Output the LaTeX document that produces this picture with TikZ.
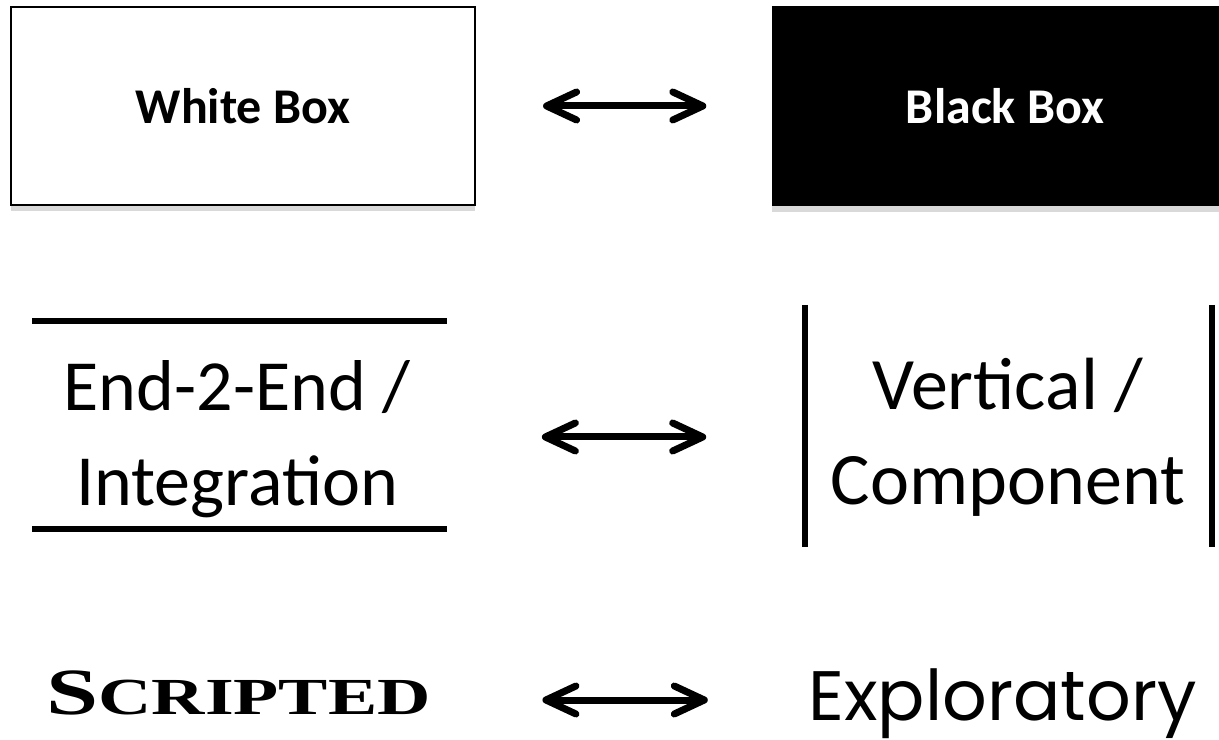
\documentclass[tikz,border=0pt]{standalone}
\usepackage{fontspec}
\setmainfont{Carlito}
\newfontfamily\copperfont[FakeStretch=1.42]{Liberation Serif}
\newfontfamily\comicfont{Poppins}
\usetikzlibrary{arrows.meta,shadows}

\tikzset{
  boxnode/.style={rectangle, minimum width=4.64cm, minimum height=1.98cm,
    font=\fontsize{0.5cm}{0.6cm}\selectfont\bfseries,
    drop shadow={shadow xshift=0pt, shadow yshift=-0.06cm, opacity=0.3}},
  bigtext/.style={align=center, inner sep=0pt},
  twoway/.style={{Straight Barb[length=3mm,width=2.8mm,round]}-{Straight Barb[length=3mm,width=2.8mm,round]},
    line width=0.07cm},
  rule/.style={line width=0.055cm}
}

\begin{document}
\begin{tikzpicture}[x=1cm,y=1cm]
\clip (0,0) rectangle (12.19,-7.40);

% boxes
\node[boxnode, draw, line width=0.6pt, fill=white] (white) at (2.43,-1.06) {White Box};
\node[boxnode, fill=black, text=white, minimum width=4.66cm, minimum height=2.0cm] (black) at (10.05,-1.06) {Black Box};

% framed texts
\node[bigtext, font=\fontsize{0.72cm}{0.95cm}\selectfont] (e2e) at (2.37,-4.39) {End-2-End /\\Integration};
\node[bigtext, font=\fontsize{0.74cm}{0.95cm}\selectfont] (vert) at (10.08,-4.37) {Vertical /\\Component};
\draw[rule] (0.32,-3.21) -- (4.47,-3.21);
\draw[rule] (0.32,-5.29) -- (4.47,-5.29);
\draw[rule] (8.05,-3.05) -- (8.05,-5.47);
\draw[rule] (12.12,-3.05) -- (12.12,-5.47);

% last row
\node[anchor=base, inner sep=0pt, font=\copperfont\bfseries] (scripted) at (2.385,-7.15)
  {{\fontsize{0.66cm}{0.7cm}\selectfont S}{\fontsize{0.52cm}{0.6cm}\selectfont CRIPTED}};
\node[anchor=base, inner sep=0pt, font=\comicfont\fontsize{0.7cm}{0.8cm}\selectfont] (explor) at (10.025,-7.20) {Exploratory};

% arrows
\coordinate (row2) at (0,-4.37);
\coordinate (row3) at (0,-7.00);
\draw[twoway, shorten <=0.67cm, shorten >=0.65cm] (white.east) -- (black.west);
\draw[twoway, shorten <=1.31cm, shorten >=1.24cm] (e2e.east |- row2) -- (vert.west |- row2);
\draw[twoway, shorten <=1.11cm, shorten >=1.0cm] (scripted.east |- row3) -- (explor.west |- row3);
\end{tikzpicture}
\end{document}
